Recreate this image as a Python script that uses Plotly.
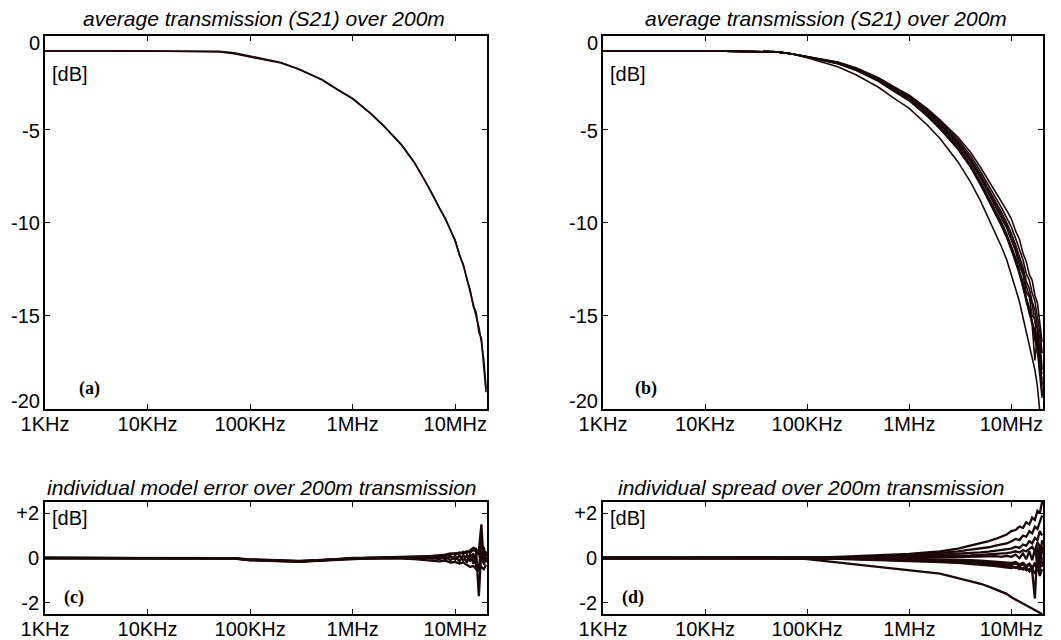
import plotly.graph_objects as go

# ---------------- data ----------------
freq_hz = [1e3, 1e4, 5e4, 7e4, 1e5, 2e5, 3e5, 5e5, 7e5, 1e6, 1.5e6, 2e6, 3e6, 4e6, 5e6,
           6e6, 7e6, 8e6, 9e6, 1e7, 1.1e7, 1.2e7, 1.3e7, 1.4e7, 1.5e7, 1.6e7, 1.7e7,
           1.8e7, 1.9e7, 2e7]

avg_db = [-0.80, -0.80, -0.85, -0.95, -1.12, -1.45, -1.78, -2.35, -2.85, -3.35, -4.15,
          -4.80, -5.85, -6.80, -7.70, -8.50, -9.20, -9.80, -10.40, -11.00, -11.70,
          -12.30, -13.00, -13.70, -14.30, -14.90, -15.60, -16.40, -17.40, -18.90]

model_db = [-0.80, -0.80, -0.82, -0.90, -1.08, -1.42, -1.78, -2.33, -2.84, -3.37, -4.17,
            -4.82, -5.83, -6.78, -7.72, -8.48, -9.22, -9.76, -10.44, -10.94, -11.78,
            -12.24, -13.06, -13.60, -14.50, -14.80, -15.90, -16.20, -17.80, -19.10]

# individual model error (panel c)
err_1 = [0, 0, 0, -0.02, -0.08, -0.12, -0.15, -0.10, -0.05, -0.02, 0.00, 0.02, 0.03, 0.05,
         0.05, 0.08, 0.10, 0.15, 0.20, 0.18, 0.25, 0.20, 0.30, 0.25, 0.35, 0.30, -1.70,
         0.40, 0.20, 0.10]
err_2 = [0, 0, 0, -0.03, -0.10, -0.14, -0.17, -0.12, -0.08, -0.04, -0.02, 0.00, 0.00, 0.02,
         -0.02, 0.00, -0.05, 0.05, -0.10, 0.10, -0.15, 0.15, -0.20, 0.20, -0.25, 0.15, 0.30,
         1.50, -0.30, 0.20]
err_3 = [0, 0, 0, -0.01, -0.06, -0.10, -0.13, -0.09, -0.06, -0.03, -0.03, -0.02, -0.03,
         -0.05, -0.08, -0.10, -0.15, -0.12, -0.20, -0.18, -0.25, -0.20, -0.30, -0.40, -0.35,
         -0.50, -0.30, -0.40, -0.50, -0.30]
err_4 = [0, 0, 0, -0.02, -0.09, -0.13, -0.16, -0.11, -0.06, -0.01, 0.02, 0.03, 0.05, 0.06,
         0.08, 0.10, 0.12, 0.10, 0.15, 0.22, 0.18, 0.28, 0.22, 0.35, 0.45, 0.40, 0.20, -0.20,
         0.50, -0.20]
err_5 = [0, 0, 0, -0.02, -0.07, -0.11, -0.14, -0.10, -0.04, 0.00, 0.01, 0.01, 0.02, 0.00,
         0.03, -0.03, 0.05, -0.05, 0.08, -0.08, 0.10, -0.12, 0.12, -0.15, 0.20, -0.35, -0.60,
         0.80, -0.20, 0.30]

# individual spread around the average (panel d)
spread_low = [0, 0, 0, 0, -0.05, -0.20, -0.30, -0.40, -0.47, -0.53, -0.62, -0.70, -0.90,
              -1.05, -1.15, -1.28, -1.40, -1.50, -1.60, -1.75, -1.85, -1.95, -2.05, -2.10,
              -2.20, -2.25, -2.30, -2.38, -2.45, -2.50]
spread_up1 = [0, 0, 0, 0, 0.02, 0.05, 0.08, 0.12, 0.15, 0.18, 0.25, 0.30, 0.42, 0.55, 0.65,
              0.75, 0.85, 0.95, 1.05, 1.20, 1.25, 1.40, 1.35, 1.60, 1.50, 1.80, 1.70, 2.10,
              2.00, 2.50]
spread_up2 = [0, 0, 0, 0, 0.01, 0.03, 0.05, 0.08, 0.10, 0.13, 0.18, 0.22, 0.30, 0.37, 0.42,
              0.48, 0.55, 0.60, 0.65, 0.75, 0.85, 0.80, 1.00, 0.95, 1.20, 1.10, 1.40, 1.30,
              1.60, 1.90]
spread_m1 = [0, 0, 0, 0, 0.00, 0.02, 0.04, 0.06, 0.08, 0.10, 0.12, 0.15, 0.18, 0.22, 0.25,
             0.28, 0.32, 0.35, 0.38, 0.42, 0.50, 0.45, 0.60, 0.55, 0.75, 0.65, 0.90, 0.80,
             1.20, 1.00]
spread_m2 = [0, 0, 0, 0, 0.00, 0.01, 0.02, 0.03, 0.04, 0.05, 0.06, 0.08, 0.10, 0.12, 0.14,
             0.16, 0.18, 0.20, 0.22, 0.25, 0.30, 0.25, 0.35, 0.30, 0.40, 0.50, 0.30, 0.70,
             0.50, 0.20]
spread_m3 = [0, 0, 0, 0, -0.01, -0.02, -0.03, -0.04, -0.05, -0.06, -0.08, -0.10, -0.12,
             -0.15, -0.18, -0.20, -0.22, -0.25, -0.28, -0.30, -0.25, -0.35, -0.30, -0.40,
             -0.30, -0.50, -0.20, -0.60, 0.20, -0.40]
spread_m4 = [0, 0, 0, 0, -0.02, -0.04, -0.06, -0.08, -0.10, -0.12, -0.15, -0.18, -0.22,
             -0.26, -0.30, -0.33, -0.36, -0.40, -0.42, -0.45, -0.40, -0.50, -0.45, -0.55,
             -0.50, -0.60, -1.80, 0.50, -0.30, 0.80]
spread_m5 = [0, 0, 0, 0, 0.00, 0.00, 0.01, 0.01, 0.02, 0.02, 0.02, 0.03, 0.04, 0.05, 0.06,
             0.06, 0.08, 0.05, 0.10, 0.05, 0.15, 0.00, 0.20, -0.05, 0.30, -0.10, 0.40, -0.20,
             0.60, -0.30]
spread_m6 = [0, 0, 0, 0, -0.01, -0.01, -0.02, -0.03, -0.03, -0.04, -0.05, -0.06, -0.08,
             -0.10, -0.12, -0.14, -0.16, -0.18, -0.20, -0.22, -0.18, -0.28, -0.22, -0.35,
             -0.25, -0.40, -0.30, -0.35, -0.60, 0.50]
spread_m7 = [0, 0, 0, 0, -0.01, -0.03, -0.05, -0.07, -0.09, -0.11, -0.13, -0.16, -0.20,
             -0.22, -0.28, -0.25, -0.33, -0.30, -0.38, -0.35, -0.45, -0.38, -0.52, -0.42,
             -0.60, -0.45, -0.70, -0.40, -0.80, -0.50]

x_tickvals = [1e3, 1e4, 1e5, 1e6, 1e7]
x_ticktext = ["1KHz", "10KHz", "100KHz", "1MHz", "10MHz"]
top_y_tickvals = [0, -5, -10, -15, -20]
top_y_ticktext = ["0", "-5", "-10", "-15", "-20"]
bot_y_tickvals = [2, 0, -2]
bot_y_ticktext = ["+2", "0", "-2"]

err_curves = [err_1, err_2, err_3, err_4, err_5]
spread_curves = [spread_low, spread_up1, spread_up2, spread_m1, spread_m2, spread_m3,
                 spread_m4, spread_m5, spread_m6, spread_m7]

# ---------------- figure ----------------
W, H = 1061, 640
LINE = "#1c0808"
FONT = "Liberation Sans, Arial, sans-serif"


def xd(a, b):
    return [a / W, b / W]


def yd(top, bottom):
    return [1 - bottom / H, 1 - top / H]


fig = go.Figure()


def add(xa, ya, ys, width=1.5):
    fig.add_trace(go.Scatter(x=freq_hz, y=ys, mode="lines", xaxis=xa, yaxis=ya,
                             line=dict(color=LINE, width=width), showlegend=False,
                             hoverinfo="skip"))


# (a)
add("x", "y", avg_db, 1.7)
add("x", "y", model_db, 1.5)
# (b)
for s in spread_curves:
    add("x2", "y2", [a + d for a, d in zip(avg_db, s)], 1.6)
# (c)
for e in err_curves:
    add("x3", "y3", e, 2.3)
# (d)
for s in spread_curves:
    add("x4", "y4", s, 2.3)

axis_common = dict(showline=True, linecolor="black", linewidth=1.8, mirror="ticks",
                   ticks="inside", ticklen=5, tickwidth=1.2, tickcolor="black",
                   showgrid=False, zeroline=False, automargin=False,
                   tickfont=dict(family=FONT, size=20, color="black"))

xcommon = dict(axis_common, type="log", range=[3, 7.31], tickvals=x_tickvals,
               ticktext=x_ticktext, ticklabelstandoff=-4)
# top panels: tick labels drawn as annotations so the end labels can be nudged inward
ytop = dict(axis_common, range=[-20, 0], tickvals=top_y_tickvals, showticklabels=False)
ybot = dict(axis_common, range=[-2.5, 2.5], tickvals=bot_y_tickvals, ticktext=bot_y_ticktext)

TOP = (36, 409)
BOT = (502, 614)
LEFT = (45, 487)
RIGHT = (603, 1043)

fig.update_layout(
    width=W, height=H, margin=dict(l=0, r=0, t=0, b=0, autoexpand=False),
    paper_bgcolor="white", plot_bgcolor="white",
    xaxis=dict(xcommon, domain=xd(*LEFT), anchor="y"),
    yaxis=dict(ytop, domain=yd(*TOP), anchor="x"),
    xaxis2=dict(xcommon, domain=xd(*RIGHT), anchor="y2"),
    yaxis2=dict(ytop, domain=yd(*TOP), anchor="x2"),
    xaxis3=dict(xcommon, domain=xd(*LEFT), anchor="y3"),
    yaxis3=dict(ybot, domain=yd(*BOT), anchor="x3"),
    xaxis4=dict(xcommon, domain=xd(*RIGHT), anchor="y4"),
    yaxis4=dict(ybot, domain=yd(*BOT), anchor="x4"),
)


def ann(text, xpx, ypx, size=21, family=FONT, xanchor="center"):
    fig.add_annotation(text=text, x=xpx / W, y=1 - ypx / H, xref="paper", yref="paper",
                       showarrow=False, xanchor=xanchor, yanchor="middle",
                       font=dict(family=family, size=size, color="black"))


# y tick labels of the top panels
label_shift = {0: -7, -5: -2, -10: 0, -15: 0, -20: 8}
for yref, left_px in (("y", LEFT[0]), ("y2", RIGHT[0])):
    for v, t in zip(top_y_tickvals, top_y_ticktext):
        fig.add_annotation(text=t, x=(left_px - 3) / W, xref="paper", y=v, yref=yref,
                           showarrow=False, xanchor="right", yanchor="middle",
                           yshift=label_shift[v],
                           font=dict(family=FONT, size=20, color="black"))

ann("<i>average transmission (S21) over 200m</i>", 264, 19)
ann("<i>average transmission (S21) over 200m</i>", 826, 19)
ann("<i>individual model error over 200m transmission</i>", 262, 487)
ann("<i>individual spread over 200m transmission</i>", 811, 487)

ann("[dB]", 50, 74, size=20, xanchor="left")
ann("[dB]", 608, 74, size=20, xanchor="left")
ann("[dB]", 50, 518, size=20, xanchor="left")
ann("[dB]", 608, 518, size=20, xanchor="left")

SERIF = "Liberation Serif, Times New Roman, serif"
ann("<b>(a)</b>", 89, 388, size=18, family=SERIF)
ann("<b>(b)</b>", 646, 388, size=18, family=SERIF)
ann("<b>(c)</b>", 74, 597, size=18, family=SERIF)
ann("<b>(d)</b>", 633, 597, size=18, family=SERIF)

fig.write_html("out.html")
